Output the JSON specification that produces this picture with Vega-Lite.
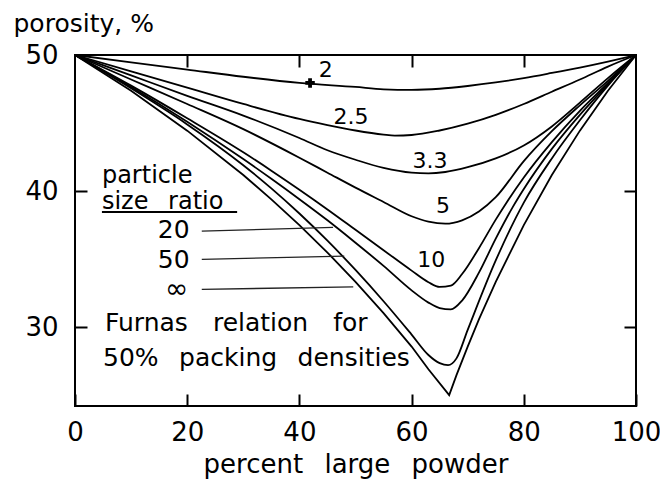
{
  "$schema": "https://vega.github.io/schema/vega-lite/v6.json",
  "width": 561,
  "height": 351,
  "autosize": {"type": "none"},
  "padding": {"left": 75, "top": 55, "right": 24, "bottom": 76},
  "background": "white",
  "config": {
    "view": {"stroke": "black", "strokeWidth": 2},
    "font": "DejaVu Sans",
    "axis": {
      "domain": false,
      "grid": false,
      "tickColor": "black",
      "tickWidth": 2,
      "labelColor": "black",
      "labelFont": "DejaVu Sans",
      "labelFontSize": 26,
      "labelFlush": false,
      "labelOverlap": false,
      "titleFont": "DejaVu Sans",
      "titleFontSize": 26,
      "titleFontWeight": "normal",
      "titleColor": "black"
    }
  },
  "datasets": {
    "curves": [
      {"ratio": "2", "pct": 0, "porosity": 50},
      {"ratio": "2", "pct": 10, "porosity": 49.46},
      {"ratio": "2", "pct": 20, "porosity": 48.93},
      {"ratio": "2", "pct": 30, "porosity": 48.4},
      {"ratio": "2", "pct": 40, "porosity": 47.95},
      {"ratio": "2", "pct": 50, "porosity": 47.65},
      {"ratio": "2", "pct": 55, "porosity": 47.48},
      {"ratio": "2", "pct": 60, "porosity": 47.44},
      {"ratio": "2", "pct": 65, "porosity": 47.52},
      {"ratio": "2", "pct": 70, "porosity": 47.72},
      {"ratio": "2", "pct": 75, "porosity": 47.98},
      {"ratio": "2", "pct": 80, "porosity": 48.3},
      {"ratio": "2", "pct": 85, "porosity": 48.68},
      {"ratio": "2", "pct": 90, "porosity": 49.08},
      {"ratio": "2", "pct": 95, "porosity": 49.52},
      {"ratio": "2", "pct": 100, "porosity": 50},

      {"ratio": "2.5", "pct": 0, "porosity": 50},
      {"ratio": "2.5", "pct": 10, "porosity": 48.8},
      {"ratio": "2.5", "pct": 20, "porosity": 47.6},
      {"ratio": "2.5", "pct": 30, "porosity": 46.4},
      {"ratio": "2.5", "pct": 40, "porosity": 45.3},
      {"ratio": "2.5", "pct": 45, "porosity": 44.85},
      {"ratio": "2.5", "pct": 50, "porosity": 44.45},
      {"ratio": "2.5", "pct": 55, "porosity": 44.15},
      {"ratio": "2.5", "pct": 57, "porosity": 44.08},
      {"ratio": "2.5", "pct": 60, "porosity": 44.12},
      {"ratio": "2.5", "pct": 65, "porosity": 44.45},
      {"ratio": "2.5", "pct": 70, "porosity": 44.95},
      {"ratio": "2.5", "pct": 75, "porosity": 45.6},
      {"ratio": "2.5", "pct": 80, "porosity": 46.4},
      {"ratio": "2.5", "pct": 85, "porosity": 47.3},
      {"ratio": "2.5", "pct": 90, "porosity": 48.2},
      {"ratio": "2.5", "pct": 95, "porosity": 49.15},
      {"ratio": "2.5", "pct": 100, "porosity": 50},

      {"ratio": "3.3", "pct": 0, "porosity": 50},
      {"ratio": "3.3", "pct": 10, "porosity": 48.5},
      {"ratio": "3.3", "pct": 20, "porosity": 47.0},
      {"ratio": "3.3", "pct": 30, "porosity": 45.55},
      {"ratio": "3.3", "pct": 40, "porosity": 43.9},
      {"ratio": "3.3", "pct": 45, "porosity": 43.0},
      {"ratio": "3.3", "pct": 50, "porosity": 42.3},
      {"ratio": "3.3", "pct": 55, "porosity": 41.7},
      {"ratio": "3.3", "pct": 60, "porosity": 41.35},
      {"ratio": "3.3", "pct": 63, "porosity": 41.3},
      {"ratio": "3.3", "pct": 66, "porosity": 41.4},
      {"ratio": "3.3", "pct": 70, "porosity": 41.75},
      {"ratio": "3.3", "pct": 75, "porosity": 42.4},
      {"ratio": "3.3", "pct": 80, "porosity": 43.35},
      {"ratio": "3.3", "pct": 85, "porosity": 44.75},
      {"ratio": "3.3", "pct": 90, "porosity": 46.5},
      {"ratio": "3.3", "pct": 95, "porosity": 48.3},
      {"ratio": "3.3", "pct": 100, "porosity": 50},

      {"ratio": "5", "pct": 0, "porosity": 50},
      {"ratio": "5", "pct": 10, "porosity": 48.2},
      {"ratio": "5", "pct": 20, "porosity": 46.4},
      {"ratio": "5", "pct": 30, "porosity": 44.55},
      {"ratio": "5", "pct": 40, "porosity": 42.45},
      {"ratio": "5", "pct": 45, "porosity": 41.35},
      {"ratio": "5", "pct": 50, "porosity": 40.25},
      {"ratio": "5", "pct": 55, "porosity": 39.2},
      {"ratio": "5", "pct": 60, "porosity": 38.15},
      {"ratio": "5", "pct": 63, "porosity": 37.75},
      {"ratio": "5", "pct": 66, "porosity": 37.6},
      {"ratio": "5", "pct": 69, "porosity": 37.85},
      {"ratio": "5", "pct": 72, "porosity": 38.5},
      {"ratio": "5", "pct": 75, "porosity": 39.55},
      {"ratio": "5", "pct": 80, "porosity": 42.2},
      {"ratio": "5", "pct": 85, "porosity": 44.4},
      {"ratio": "5", "pct": 90, "porosity": 46.3},
      {"ratio": "5", "pct": 95, "porosity": 48.1},
      {"ratio": "5", "pct": 100, "porosity": 50},

      {"ratio": "10", "pct": 0, "porosity": 50},
      {"ratio": "10", "pct": 10, "porosity": 47.75},
      {"ratio": "10", "pct": 20, "porosity": 45.35},
      {"ratio": "10", "pct": 30, "porosity": 42.85},
      {"ratio": "10", "pct": 35, "porosity": 41.5},
      {"ratio": "10", "pct": 40, "porosity": 40.1},
      {"ratio": "10", "pct": 45, "porosity": 38.65},
      {"ratio": "10", "pct": 50, "porosity": 37.15},
      {"ratio": "10", "pct": 55, "porosity": 35.65},
      {"ratio": "10", "pct": 60, "porosity": 34.15},
      {"ratio": "10", "pct": 63, "porosity": 33.3},
      {"ratio": "10", "pct": 65, "porosity": 32.95},
      {"ratio": "10", "pct": 67, "porosity": 33.05},
      {"ratio": "10", "pct": 69, "porosity": 33.9},
      {"ratio": "10", "pct": 72, "porosity": 35.8},
      {"ratio": "10", "pct": 75, "porosity": 37.9},
      {"ratio": "10", "pct": 77, "porosity": 39.2},
      {"ratio": "10", "pct": 80, "porosity": 41.0},
      {"ratio": "10", "pct": 85, "porosity": 43.6},
      {"ratio": "10", "pct": 90, "porosity": 45.9},
      {"ratio": "10", "pct": 95, "porosity": 47.95},
      {"ratio": "10", "pct": 100, "porosity": 50},

      {"ratio": "20", "pct": 0, "porosity": 50},
      {"ratio": "20", "pct": 10, "porosity": 47.65},
      {"ratio": "20", "pct": 20, "porosity": 45.1},
      {"ratio": "20", "pct": 30, "porosity": 42.35},
      {"ratio": "20", "pct": 35, "porosity": 40.9},
      {"ratio": "20", "pct": 40, "porosity": 39.4},
      {"ratio": "20", "pct": 45, "porosity": 37.85},
      {"ratio": "20", "pct": 50, "porosity": 36.2},
      {"ratio": "20", "pct": 55, "porosity": 34.5},
      {"ratio": "20", "pct": 60, "porosity": 32.7},
      {"ratio": "20", "pct": 63, "porosity": 31.8},
      {"ratio": "20", "pct": 65, "porosity": 31.4},
      {"ratio": "20", "pct": 67, "porosity": 31.3},
      {"ratio": "20", "pct": 69, "porosity": 31.95},
      {"ratio": "20", "pct": 72, "porosity": 34.0},
      {"ratio": "20", "pct": 75, "porosity": 36.5},
      {"ratio": "20", "pct": 78, "porosity": 38.8},
      {"ratio": "20", "pct": 80, "porosity": 40.15},
      {"ratio": "20", "pct": 85, "porosity": 43.1},
      {"ratio": "20", "pct": 90, "porosity": 45.6},
      {"ratio": "20", "pct": 95, "porosity": 47.85},
      {"ratio": "20", "pct": 100, "porosity": 50},

      {"ratio": "50", "pct": 0, "porosity": 50},
      {"ratio": "50", "pct": 10, "porosity": 47.55},
      {"ratio": "50", "pct": 20, "porosity": 44.9},
      {"ratio": "50", "pct": 30, "porosity": 41.9},
      {"ratio": "50", "pct": 35, "porosity": 40.2},
      {"ratio": "50", "pct": 40, "porosity": 38.35},
      {"ratio": "50", "pct": 45, "porosity": 36.35},
      {"ratio": "50", "pct": 50, "porosity": 34.2},
      {"ratio": "50", "pct": 55, "porosity": 31.9},
      {"ratio": "50", "pct": 60, "porosity": 29.45},
      {"ratio": "50", "pct": 63, "porosity": 27.95},
      {"ratio": "50", "pct": 65, "porosity": 27.35},
      {"ratio": "50", "pct": 66.5, "porosity": 27.2},
      {"ratio": "50", "pct": 68, "porosity": 27.7},
      {"ratio": "50", "pct": 70, "porosity": 29.8},
      {"ratio": "50", "pct": 75, "porosity": 34.9},
      {"ratio": "50", "pct": 80, "porosity": 39.15},
      {"ratio": "50", "pct": 85, "porosity": 42.4},
      {"ratio": "50", "pct": 90, "porosity": 45.2},
      {"ratio": "50", "pct": 95, "porosity": 47.75},
      {"ratio": "50", "pct": 100, "porosity": 50}
    ],
    "limit": [
      {"ratio": "∞", "pct": 0, "porosity": 50},
      {"ratio": "∞", "pct": 10, "porosity": 47.37},
      {"ratio": "∞", "pct": 20, "porosity": 44.44},
      {"ratio": "∞", "pct": 30, "porosity": 41.18},
      {"ratio": "∞", "pct": 35, "porosity": 39.39},
      {"ratio": "∞", "pct": 40, "porosity": 37.5},
      {"ratio": "∞", "pct": 45, "porosity": 35.48},
      {"ratio": "∞", "pct": 50, "porosity": 33.33},
      {"ratio": "∞", "pct": 55, "porosity": 31.03},
      {"ratio": "∞", "pct": 60, "porosity": 28.57},
      {"ratio": "∞", "pct": 63, "porosity": 26.9},
      {"ratio": "∞", "pct": 66.7, "porosity": 25.0},
      {"ratio": "∞", "pct": 68, "porosity": 26.47},
      {"ratio": "∞", "pct": 70, "porosity": 28.57},
      {"ratio": "∞", "pct": 72, "porosity": 30.56},
      {"ratio": "∞", "pct": 75, "porosity": 33.33},
      {"ratio": "∞", "pct": 80, "porosity": 37.5},
      {"ratio": "∞", "pct": 85, "porosity": 41.18},
      {"ratio": "∞", "pct": 90, "porosity": 44.44},
      {"ratio": "∞", "pct": 95, "porosity": 47.37},
      {"ratio": "∞", "pct": 100, "porosity": 50}
    ],
    "curveLabels": [
      {"text": "2", "pct": 44.7, "porosity": 48.9},
      {"text": "2.5", "pct": 49.2, "porosity": 45.44},
      {"text": "3.3", "pct": 63.3, "porosity": 42.2},
      {"text": "5", "pct": 65.6, "porosity": 38.9},
      {"text": "10", "pct": 63.5, "porosity": 34.9}
    ],
    "keyLabels": [
      {"text": "20", "pct": 17.6, "porosity": 37.13},
      {"text": "50", "pct": 17.6, "porosity": 34.9}
    ],
    "keyInfinity": [
      {"text": "∞", "pct": 18.1, "porosity": 32.72}
    ],
    "pointers": [
      {"pct": 22.6, "porosity": 37.06, "pct2": 46.0, "porosity2": 37.33},
      {"pct": 22.6, "porosity": 34.98, "pct2": 48.0, "porosity2": 35.22},
      {"pct": 22.6, "porosity": 32.77, "pct2": 49.6, "porosity2": 32.96}
    ],
    "underline": [
      {"pct": 4.8, "porosity": 38.46, "pct2": 28.9, "porosity2": 38.46}
    ],
    "labelBlock": [
      {"text": "particle", "pct": 4.8, "porosity": 40.56},
      {"text": "size\u2002 ratio", "pct": 4.8, "porosity": 38.68}
    ],
    "notes": [
      {"text": "Furnas\u2003relation\u2003for", "pct": 5.35, "porosity": 29.73},
      {"text": "50%\u2002 packing\u2002 densities", "pct": 5.0, "porosity": 27.15}
    ],
    "marker": [
      {"pct": 41.9, "porosity": 47.95}
    ]
  },
  "layer": [
    {
      "data": {"name": "curves"},
      "mark": {"type": "line", "interpolate": "monotone", "color": "black", "strokeWidth": 1.8},
      "encoding": {
        "x": {
          "field": "pct", "type": "quantitative",
          "scale": {"domain": [0, 100], "nice": false, "zero": false},
          "axis": {
            "orient": "bottom", "values": [0, 20, 40, 60, 80, 100],
            "tickSize": -12, "labelPadding": 25,
            "title": "percent\u2002 large\u2002 powder",
            "titleBaseline": "alphabetic", "titleY": 66
          }
        },
        "y": {
          "field": "porosity", "type": "quantitative",
          "scale": {"domain": [24.2, 50], "nice": false, "zero": false},
          "axis": {
            "orient": "left", "values": [30, 40, 50],
            "tickSize": -12, "labelPadding": 29,
            "title": "porosity, %", "titleAngle": 0,
            "titleAlign": "left", "titleBaseline": "alphabetic",
            "titleX": -62, "titleY": -23.5, "titleFontSize": 25
          }
        },
        "detail": {"field": "ratio"}
      }
    },
    {
      "data": {"name": "limit"},
      "mark": {"type": "line", "interpolate": "linear", "color": "black", "strokeWidth": 1.8},
      "encoding": {
        "x": {
          "field": "pct", "type": "quantitative",
          "axis": {"orient": "top", "values": [20, 40, 60, 80], "tickSize": -12, "labels": false, "title": null}
        },
        "y": {
          "field": "porosity", "type": "quantitative",
          "axis": {"orient": "right", "values": [30, 40], "tickSize": -12, "labels": false, "title": null}
        }
      }
    },
    {
      "data": {"name": "pointers"},
      "mark": {"type": "rule", "color": "#222", "strokeWidth": 1.3},
      "encoding": {
        "x": {"field": "pct", "type": "quantitative", "axis": null},
        "y": {"field": "porosity", "type": "quantitative", "axis": null},
        "x2": {"field": "pct2"},
        "y2": {"field": "porosity2"}
      }
    },
    {
      "data": {"name": "underline"},
      "mark": {"type": "rule", "color": "black", "strokeWidth": 2},
      "encoding": {
        "x": {"field": "pct", "type": "quantitative", "axis": null},
        "y": {"field": "porosity", "type": "quantitative", "axis": null},
        "x2": {"field": "pct2"},
        "y2": {"field": "porosity2"}
      }
    },
    {
      "data": {"name": "curveLabels"},
      "mark": {"type": "text", "font": "DejaVu Sans", "fontSize": 22, "color": "black", "align": "center", "baseline": "middle"},
      "encoding": {
        "x": {"field": "pct", "type": "quantitative", "axis": null},
        "y": {"field": "porosity", "type": "quantitative", "axis": null},
        "text": {"field": "text"}
      }
    },
    {
      "data": {"name": "keyLabels"},
      "mark": {"type": "text", "font": "DejaVu Sans", "fontSize": 25, "color": "black", "align": "center", "baseline": "middle"},
      "encoding": {
        "x": {"field": "pct", "type": "quantitative", "axis": null},
        "y": {"field": "porosity", "type": "quantitative", "axis": null},
        "text": {"field": "text"}
      }
    },
    {
      "data": {"name": "keyInfinity"},
      "mark": {"type": "text", "font": "DejaVu Sans", "fontSize": 28, "color": "black", "align": "center", "baseline": "middle"},
      "encoding": {
        "x": {"field": "pct", "type": "quantitative", "axis": null},
        "y": {"field": "porosity", "type": "quantitative", "axis": null},
        "text": {"field": "text"}
      }
    },
    {
      "data": {"name": "labelBlock"},
      "mark": {"type": "text", "font": "DejaVu Sans", "fontSize": 24, "color": "black", "align": "left", "baseline": "alphabetic"},
      "encoding": {
        "x": {"field": "pct", "type": "quantitative", "axis": null},
        "y": {"field": "porosity", "type": "quantitative", "axis": null},
        "text": {"field": "text"}
      }
    },
    {
      "data": {"name": "notes"},
      "mark": {"type": "text", "font": "DejaVu Sans", "fontSize": 25, "color": "black", "align": "left", "baseline": "alphabetic"},
      "encoding": {
        "x": {"field": "pct", "type": "quantitative", "axis": null},
        "y": {"field": "porosity", "type": "quantitative", "axis": null},
        "text": {"field": "text"}
      }
    },
    {
      "data": {"name": "marker"},
      "mark": {"type": "point", "shape": "cross", "filled": true, "color": "black", "size": 90, "opacity": 1},
      "encoding": {
        "x": {"field": "pct", "type": "quantitative", "axis": null},
        "y": {"field": "porosity", "type": "quantitative", "axis": null}
      }
    }
  ],
  "resolve": {"axis": {"x": "independent", "y": "independent"}}
}
